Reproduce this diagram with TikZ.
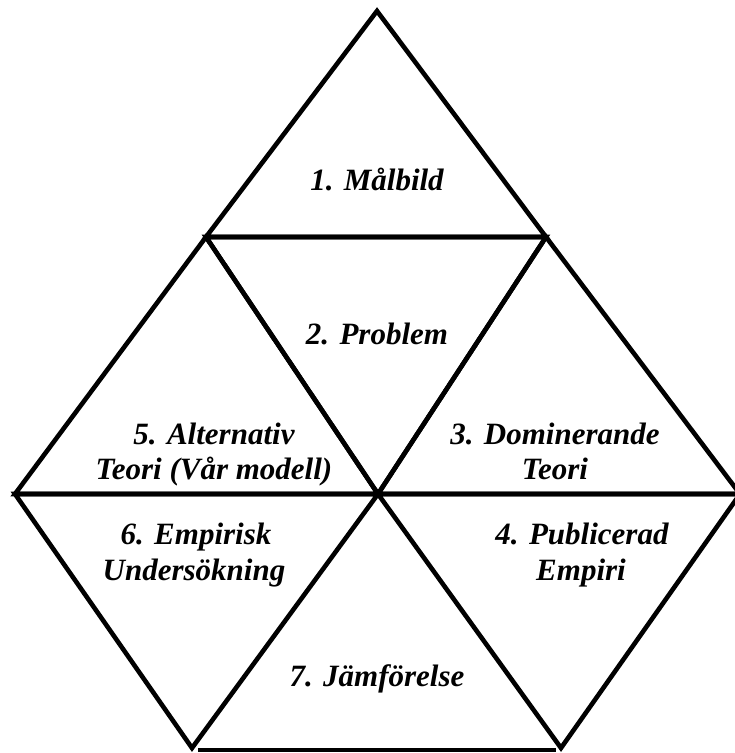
\documentclass[tikz,border=0pt]{standalone}
\usepackage{fontspec}
\setmainfont{Liberation Serif}
\begin{document}
\begin{tikzpicture}[x=1pt,y=-1pt,
  edge/.style={line width=4.6pt, line join=miter, miter limit=10},
  lbl/.style={font=\fontsize{31}{36}\selectfont\bfseries\itshape, anchor=base, inner sep=0pt}]
\useasboundingbox (0,0) rectangle (735,753);
% corner points of the triangular grid
\coordinate (A) at (377,11);
\coordinate (B) at (206,237);
\coordinate (C) at (546,237);
\coordinate (D) at (15,494);
\coordinate (E) at (378,494);
\coordinate (F) at (740,494);
\coordinate (G) at (192,748);
\coordinate (H) at (561,748);
\coordinate (G2) at (198,750);
\coordinate (H2) at (556,750);
% triangles
\draw[edge] (A) -- (B) -- (C) -- cycle;
\draw[edge] (B) -- (C) -- (E) -- cycle;
\draw[edge] (B) -- (D) -- (E) -- cycle;
\draw[edge] (C) -- (E) -- (F) -- cycle;
\draw[edge] (D) -- (E) -- (G) -- cycle;
\draw[edge] (E) -- (F) -- (H) -- cycle;
\draw[edge] (G2) -- (H2);
% labels, one node per printed line
\node[lbl] (t1)  at (377,190) {1. Målbild};
\node[lbl] (t2)  at (377,344) {2. Problem};
\node[lbl] (t5a) at (214,444) {5. Alternativ};
\node[lbl] (t5b) at (214,479) {Teori (Vår modell)};
\node[lbl] (t3a) at (555,444) {3. Dominerande};
\node[lbl] (t3b) at (555,479) {Teori};
\node[lbl] (t6a) at (196,544) {6. Empirisk};
\node[lbl] (t6b) at (194,580) {Undersökning};
\node[lbl] (t4a) at (582,544) {4. Publicerad};
\node[lbl] (t4b) at (581,580) {Empiri};
\node[lbl] (t7)  at (377,686) {7. Jämförelse};
\end{tikzpicture}
\end{document}
